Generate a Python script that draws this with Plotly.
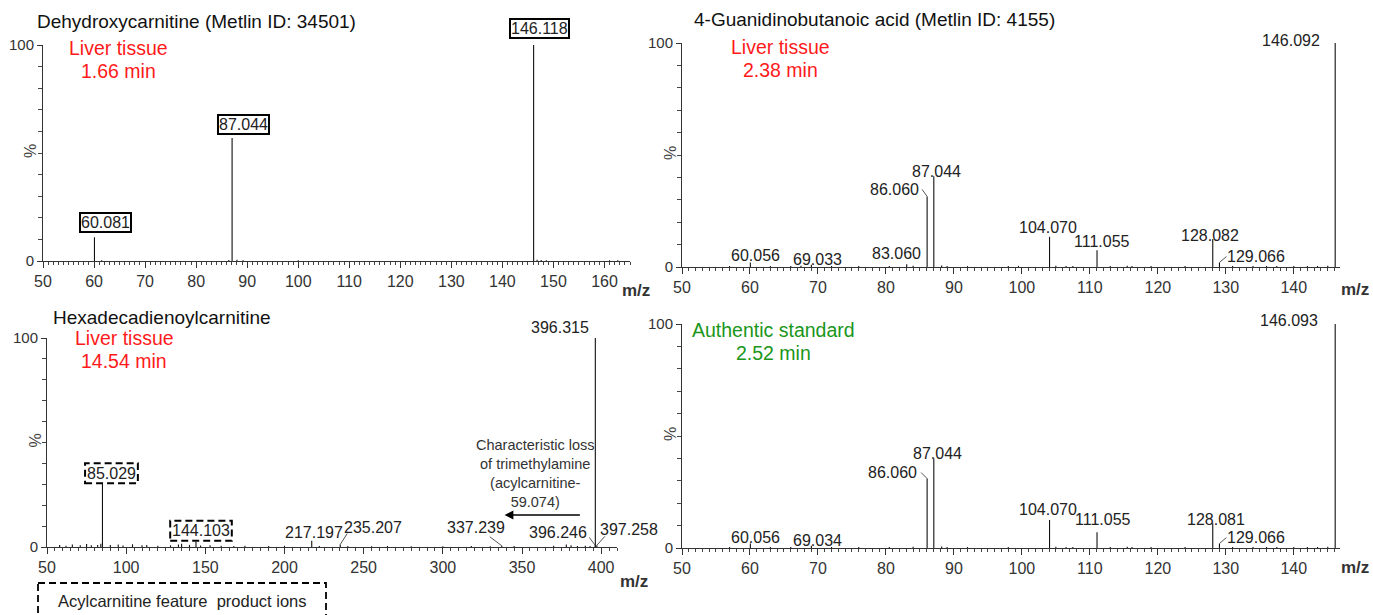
import plotly.graph_objects as go

W, H = 1373, 615
FONT = "Liberation Sans, Arial, sans-serif"
INK = "#222222"

# ---------------- data ----------------
# Panel A: Dehydroxycarnitine, liver tissue
a_mz = [60.081, 87.044, 146.118]
a_int = [11, 57, 100]
a_noise_mz = [61.5, 86.4, 88.0, 89.2, 100.0, 146.8, 147.6, 148.6, 161.0, 162.6]
a_noise_int = [0.4, 0.5, 0.6, 0.4, 0.4, 0.6, 0.5, 0.4, 0.3, 0.3]

# Panel B: 4-Guanidinobutanoic acid, liver tissue
b_mz = [60.056, 69.033, 83.060, 86.060, 87.044, 104.070, 111.055, 128.082, 129.066, 146.092]
b_int = [2.0, 1.0, 1.2, 31.5, 40.5, 13.5, 7.5, 12.5, 2.0, 100]
b_noise_mz = [57.0, 63.0, 66.0, 67.5, 72.0, 76.0, 80.5, 84.0, 88.2, 89.0, 92.0, 98.0,
              99.5, 105.0, 106.5, 107.5, 113.0, 115.5, 116.2, 119.0, 124.0, 131.0,
              134.0, 136.0, 137.5, 140.0, 142.0, 143.5, 145.0]
b_noise_int = [0.4, 0.5, 0.4, 0.6, 0.4, 0.5, 0.4, 0.6, 0.7, 0.5, 0.4, 0.4,
               0.5, 0.6, 0.5, 0.4, 0.4, 0.6, 0.5, 0.4, 0.4, 0.5,
               0.4, 0.5, 0.4, 0.5, 0.4, 0.5, 0.6]

# Panel C: Hexadecadienoylcarnitine, liver tissue
c_mz = [85.029, 144.103, 217.197, 235.207, 337.239, 396.246, 396.315, 397.258]
c_int = [30.5, 2.5, 3.0, 1.2, 0.6, 0.8, 100, 0.8]
c_noise_mz = [58, 62, 66, 71, 75, 78, 82, 84, 90, 95, 98, 104, 110, 113, 120, 128,
              133, 135, 140, 147, 153, 160, 168, 175, 190, 200, 222, 240, 255, 265,
              280, 300, 318, 330, 345, 370, 378, 381, 385, 390, 393]
c_noise_int = [1.0, 0.6, 1.2, 0.8, 1.4, 0.8, 1.0, 1.5, 0.9, 1.2, 0.7, 1.3, 0.8, 1.0,
               0.6, 0.8, 1.2, 1.6, 1.0, 0.7, 0.8, 0.6, 0.5, 0.6, 0.5, 0.6, 0.5, 0.5,
               0.4, 0.5, 0.4, 0.4, 0.5, 0.4, 0.5, 0.6, 1.2, 0.8, 0.5, 0.6, 0.5]

# Panel D: 4-Guanidinobutanoic acid, authentic standard
d_mz = [60.056, 69.034, 86.060, 87.044, 104.070, 111.055, 128.081, 129.066, 146.093]
d_int = [2.0, 1.0, 31.0, 40.0, 12.5, 7.0, 11.0, 2.0, 100]
d_noise_mz = [57.0, 63.0, 66.0, 72.0, 76.0, 80.5, 84.0, 88.2, 89.0, 92.0, 98.0,
              105.0, 106.5, 107.5, 113.0, 115.5, 116.2, 119.0, 124.0, 131.0,
              134.0, 136.0, 137.5, 140.0, 142.0, 143.5, 145.0]
d_noise_int = [0.4, 0.5, 0.4, 0.4, 0.5, 0.4, 0.6, 0.7, 0.5, 0.4, 0.4,
               0.6, 0.5, 0.4, 0.4, 0.6, 0.5, 0.4, 0.4, 0.5,
               0.4, 0.5, 0.4, 0.5, 0.4, 0.5, 0.6]

titles = ["Dehydroxycarnitine (Metlin ID: 34501)",
          "4-Guanidinobutanoic acid (Metlin ID: 4155)",
          "Hexadecadienoylcarnitine",
          ""]
conditions = [("Liver tissue", "1.66 min"), ("Liver tissue", "2.38 min"),
              ("Liver tissue", "14.54 min"), ("Authentic standard", "2.52 min")]
x_ranges = [[50, 165], [50, 146.8], [50, 410], [50, 146.8]]
x_major = [10, 10, 50, 10]
x_minor = [1, 1, 5, 1]

# ---------------- layout geometry (pixels) ----------------
# (left, right, top(100%), bottom(0%))
boxes_px = [(43, 630, 45, 261), (682, 1340, 43, 267), (47, 617, 338, 547), (682, 1340, 324, 548)]
mz_label_px = [(636, 290), (1355, 289), (634, 581), (1355, 567)]


def pxx(v):
    return v / W


def pxy(v):
    return 1 - v / H


# label placement: label -> (dx, dy, style, connector) ; offsets in px from peak top, dy up
label_pos = [
    {"60.081": (11, 15, "box", None), "87.044": (11, 13, "box", None),
     "146.118": (6, 16, "box", None)},
    {"60.056": (5, 7, "", None), "69.033": (6, 5, "", None), "83.060": (-10, 11, "", None),
     "86.060": (-33, 7, "", (-5, 7, 0, 0)), "87.044": (3, 5, "", None),
     "104.070": (-2, 9, "", None), "111.055": (5, 9, "", None), "128.082": (-3, 4, "", None),
     "129.066": (37, 6, "", (0, 0, 7, 6)), "146.092": (-44, 3, "", (-12, 4, -1, 1))},
    {"85.029": (9, 10, "dash", None), "144.103": (5, 11, "dash", None),
     "217.197": (2, 8, "", None), "235.207": (33, 17, "", (0, 0, 7, 11)),
     "337.239": (-26, 18, "", (-12, 9, 0, 0)), "396.246": (-37, 13, "", (-6, 8, 0, 0)),
     "396.315": (-35, 11, "", (-4, 10, 1, 2)), "397.258": (32, 16, "", (0, 0, 8, 9))},
    {"60.056": (5, 6, "", None), "69.034": (6, 5, "", None),
     "86.060": (-35, 6, "", (-6, 6, 0, 0)), "87.044": (4, 5, "", None),
     "104.070": (-2, 11, "", None), "111.055": (6, 13, "", None), "128.081": (3, 4, "", None),
     "129.066": (37, 6, "", (0, 0, 7, 6)), "146.093": (-46, 4, "", (-12, 5, -1, 1))},
]

panels = [(a_mz, a_int, a_noise_mz, a_noise_int),
          (b_mz, b_int, b_noise_mz, b_noise_int),
          (c_mz, c_int, c_noise_mz, c_noise_int),
          (d_mz, d_int, d_noise_mz, d_noise_int)]

fig = go.Figure()
annotations = []
shapes = []
layout_axes = {}

for i, (mz, inten, nmz, nint) in enumerate(panels):
    k = i + 1
    xa = "x" if k == 1 else f"x{k}"
    ya = "y" if k == 1 else f"y{k}"
    xs, ys = [], []
    for m, h in list(zip(nmz, nint)) + list(zip(mz, inten)):
        xs += [m, m, None]
        ys += [0, h, None]
    fig.add_trace(go.Scatter(x=xs, y=ys, mode="lines", xaxis=xa, yaxis=ya,
                             line=dict(color="#111111", width=1.1),
                             hoverinfo="skip", showlegend=False))

    l, r, t, b = boxes_px[i]
    xr = x_ranges[i]
    layout_axes["xaxis" if k == 1 else f"xaxis{k}"] = dict(
        domain=[pxx(l), pxx(r)], range=xr, anchor=ya, showgrid=False, zeroline=False,
        automargin=False, showline=True, linecolor="#333333", linewidth=1,
        ticks="outside", ticklen=6, tickwidth=1, tickcolor="#333333",
        tick0=0, dtick=x_major[i],
        tickfont=dict(family=FONT, size=16, color="#333333"),
        minor=dict(ticks="outside", ticklen=3, dtick=x_minor[i], tick0=0,
                   tickcolor="#444444", tickwidth=1),
    )
    layout_axes["yaxis" if k == 1 else f"yaxis{k}"] = dict(
        domain=[pxy(b), pxy(t)], range=[0, 100], anchor=xa, showgrid=False, zeroline=False,
        automargin=False, showline=True, linecolor="#333333", linewidth=1,
        ticks="outside", ticklen=5, tickwidth=1, tickcolor="#333333",
        tickvals=[0, 100], ticktext=["0", "100"],
        tickfont=dict(family=FONT, size=15, color="#333333"),
        minor=dict(ticks="outside", ticklen=4, tickvals=[10, 20, 30, 40, 50, 60, 70, 80, 90],
                   tickcolor="#444444"),
    )

    # percentage label
    annotations.append(dict(xref="paper", yref="paper", x=pxx(l - 12), y=pxy((t + b) / 2 - 2),
                            text="%", textangle=-90, showarrow=False,
                            xanchor="center", yanchor="middle",
                            font=dict(family=FONT, size=16, color="#444444")))
    # m/z label
    mx, my = mz_label_px[i]
    annotations.append(dict(xref="paper", yref="paper", x=pxx(mx), y=pxy(my),
                            text="<b>m/z</b>", showarrow=False,
                            xanchor="center", yanchor="middle",
                            font=dict(family=FONT, size=17, color="#333333")))

    # peak labels
    for m, h in zip(mz, inten):
        lab = f"{m:.3f}"
        if lab not in label_pos[i]:
            continue
        dx, dy, style, conn = label_pos[i][lab]
        ann = dict(xref=xa, yref=ya, x=m, y=h, xshift=dx, yshift=dy, text=lab,
                   showarrow=False, xanchor="center", yanchor="middle",
                   font=dict(family=FONT, size=16, color=INK))
        if style == "box":
            ann.update(bordercolor="#000000", borderwidth=2, borderpad=0)
        annotations.append(ann)
        if style == "dash":
            half = 4.4 * len(lab)
            shapes.append(dict(type="rect", xref=xa, yref=ya, xsizemode="pixel",
                               ysizemode="pixel", xanchor=m, yanchor=h,
                               x0=dx - half, x1=dx + half, y0=dy - 10, y1=dy + 10,
                               line=dict(color="#000000", width=2, dash="7px,4px")))
        if conn is not None:
            shapes.append(dict(type="line", xref=xa, yref=ya, xsizemode="pixel",
                               ysizemode="pixel", xanchor=m, yanchor=h,
                               x0=conn[0], y0=conn[1], x1=conn[2], y1=conn[3],
                               line=dict(color="#555555", width=1)))

# titles
title_pos = [(37, 22), (694, 20), (53, 317)]
for (x0, y0), ttl in zip(title_pos, titles):
    annotations.append(dict(xref="paper", yref="paper", x=pxx(x0 - 2), y=pxy(y0), text=ttl,
                            showarrow=False, xanchor="left", yanchor="middle",
                            font=dict(family=FONT, size=19, color="#111111")))

# condition text
cond_pos = [(118, 48), (780, 47), (124, 338), (773, 330)]
cond_col = ["#ff1a1a", "#ff1a1a", "#ff1a1a", "#1a961a"]
for (cx, cy), (l1, l2), col in zip(cond_pos, conditions, cond_col):
    annotations.append(dict(xref="paper", yref="paper", x=pxx(cx), y=pxy(cy), text=l1,
                            showarrow=False, xanchor="center", yanchor="middle",
                            font=dict(family=FONT, size=19.5, color=col)))
    annotations.append(dict(xref="paper", yref="paper", x=pxx(cx), y=pxy(cy + 23), text=l2,
                            showarrow=False, xanchor="center", yanchor="middle",
                            font=dict(family=FONT, size=19.5, color=col)))

# characteristic loss note + arrow (panel C)
annotations.append(dict(xref="x3", yref="y3", x=358, y=35,
                        text="Characteristic loss<br>of trimethylamine<br>(acylcarnitine-<br>59.074)",
                        showarrow=False, xanchor="center", yanchor="middle", align="center",
                        font=dict(family=FONT, size=14.5, color="#333333")))
annotations.append(dict(xref="x3", yref="y3", x=339, y=15.3, ax=387.5, ay=15.3,
                        axref="x3", ayref="y3", text="", showarrow=True,
                        arrowhead=2, arrowsize=1.1, arrowwidth=1.6, arrowcolor="#000000",
                        standoff=0, startstandoff=0))

# legend box for dashed labels
shapes.append(dict(type="rect", xref="paper", yref="paper", x0=pxx(38), x1=pxx(326),
                   y0=pxy(583), y1=pxy(640),
                   line=dict(color="#000000", width=1.8, dash="7px,4px")))
annotations.append(dict(xref="paper", yref="paper", x=pxx(182), y=pxy(601),
                        text="Acylcarnitine feature  product ions", showarrow=False,
                        xanchor="center", yanchor="middle",
                        font=dict(family=FONT, size=16.5, color="#222222")))

fig.update_layout(width=W, height=H, margin=dict(l=0, r=0, t=0, b=0, autoexpand=False),
                  paper_bgcolor="white", plot_bgcolor="white",
                  annotations=annotations, shapes=shapes, showlegend=False,
                  **layout_axes)

fig.write_html("out.html", config={"displayModeBar": False},
               post_script="document.body.style.margin='0';document.body.style.overflow='hidden';")
